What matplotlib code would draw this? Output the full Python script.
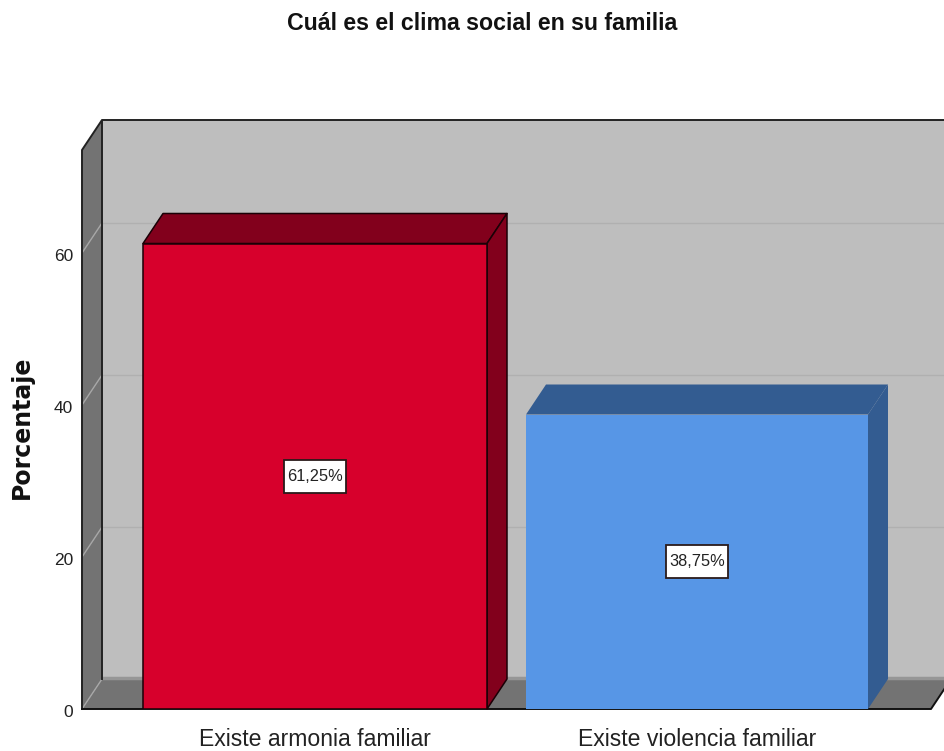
#!/usr/bin/env python3

import matplotlib
matplotlib.use("Agg")
import matplotlib.pyplot as plt
from matplotlib.patches import Polygon, Rectangle
from matplotlib.transforms import ScaledTranslation

categorias = ["Existe armonia familiar", "Existe violencia familiar"]
porcentajes = [61.25, 38.75]
etiquetas = ["61,25%", "38,75%"]
colores = ["#D7002C", "#5796E6"]
colores_osc = ["#82001C", "#335C91"]
bordes = ["#1A0006", None]
ticks_y = [0, 20, 40, 60]

W, H = 944, 751
PX_Y = 7.6       # pixeles por unidad de porcentaje
PX_X = 382.0     # pixeles entre categorias
DX = 20 / PX_X   # profundidad del efecto 3D
DY = 30 / PX_Y

plt.rcParams["font.family"] = ["Liberation Sans", "DejaVu Sans"]

fig = plt.figure(figsize=(W / 100, H / 100), dpi=100)
ax = fig.add_axes([82 / W, (H - 709) / H, (W - 82) / W, (709 - 120) / H])
ax.set_xlim(-233 / PX_X, 1 + 247 / PX_X)
ax.set_ylim(0, (709 - 120) / PX_Y)
x0, x1 = ax.get_xlim()
top = ax.get_ylim()[1] - DY
right = x0 + 849 / PX_X  # esquina frontal del piso
for s in ax.spines.values():
    s.set_visible(False)


def poly(pts, fc, ec="none", lw=0.0, z=1):
    ax.add_patch(Polygon(pts, closed=True, fc=fc, ec=ec, lw=lw, zorder=z, clip_on=False, joinstyle="round"))


# paredes y piso
poly([(x0 + DX, DY), (x1 + 1, DY), (x1 + 1, top + DY), (x0 + DX, top + DY)], "#BEBEBE")
poly([(x0, 0), (x0 + DX, DY), (x0 + DX, top + DY), (x0, top)], "#737373")
poly([(x0, 0), (right, 0), (right + DX, DY), (x0 + DX, DY)], "#737373")
ax.plot([x0 + DX, x1], [DY + 0.15, DY + 0.15], color="#969696", lw=2.5, zorder=1.5, solid_capstyle="butt")

for t in ticks_y[1:]:
    ax.plot([x0 + DX, x1], [t + DY, t + DY], color="#B0B0B0", lw=1, zorder=2)
for t in ticks_y:
    ax.plot([x0, x0 + DX], [t, t + DY], color="#A8A8A8", lw=1, zorder=2)

# contornos de las paredes
ax.plot([x0, x0, x0 + DX, x1], [0, top, top + DY, top + DY], color="#222222", lw=1.4, zorder=3, clip_on=False)
ax.plot([x0 + DX, x0 + DX], [DY, top + DY], color="#222222", lw=1.4, zorder=3)
ax.plot([x0, right, right + DX], [0, 0, DY], color="#111111", lw=1.4, zorder=3, clip_on=False)

# barras
anchos = [344 / PX_X, 342 / PX_X]
barras = []
for i, v in enumerate(porcentajes):
    ec = bordes[i] or "none"
    lw = 1.1 if bordes[i] else 0
    barras += ax.bar(i, v, width=anchos[i], color=colores[i], edgecolor=ec, linewidth=lw, zorder=5).patches
for b, v, osc, ec in zip(barras, porcentajes, colores_osc, bordes):
    xa, xb = b.get_x(), b.get_x() + b.get_width()
    poly([(xa, v), (xb, v), (xb + DX, v + DY), (xa + DX, v + DY)], osc, ec or "none", 1.1 if ec else 0, 4)
    poly([(xb, 0), (xb + DX, DY), (xb + DX, v + DY), (xb, v)], osc, ec or "none", 1.1 if ec else 0, 4)

caja_w, caja_h = 62 / PX_X, 33 / PX_Y
for i, (v, txt) in enumerate(zip(porcentajes, etiquetas)):
    ax.add_patch(Rectangle((i - caja_w / 2, v / 2 - caja_h / 2), caja_w, caja_h, fc="white",
                           ec="#2a1a1a", lw=1.3, zorder=6))
    ax.text(i, v / 2, txt, ha="center", va="center", fontsize=11.8, color="#222222", zorder=7)

ax.set_xticks(range(len(categorias)))
ax.set_xticklabels(categorias, fontsize=16.6)
ax.set_yticks(ticks_y)
ax.set_yticklabels([str(t) for t in ticks_y], fontsize=12.5)
ax.tick_params(length=0, colors="#222222")
ax.tick_params(axis="x", pad=14)
ax.tick_params(axis="y", pad=6.5)
baja = ScaledTranslation(0, -2 / 100, fig.dpi_scale_trans)
for lab in ax.get_yticklabels():
    lab.set_transform(lab.get_transform() + baja)

fig.text(482 / W, 1 - 24 / H, "Cuál es el clima social en su familia", ha="center", va="center",
         fontsize=16.7, fontweight="bold", color="#111111")
fig.text(22 / W, 1 - 427 / H, "Porcentaje", rotation=90, ha="center", va="center",
         fontsize=17, fontweight="bold", family="DejaVu Sans", color="#111111")

fig.savefig("out.png", dpi=100)
